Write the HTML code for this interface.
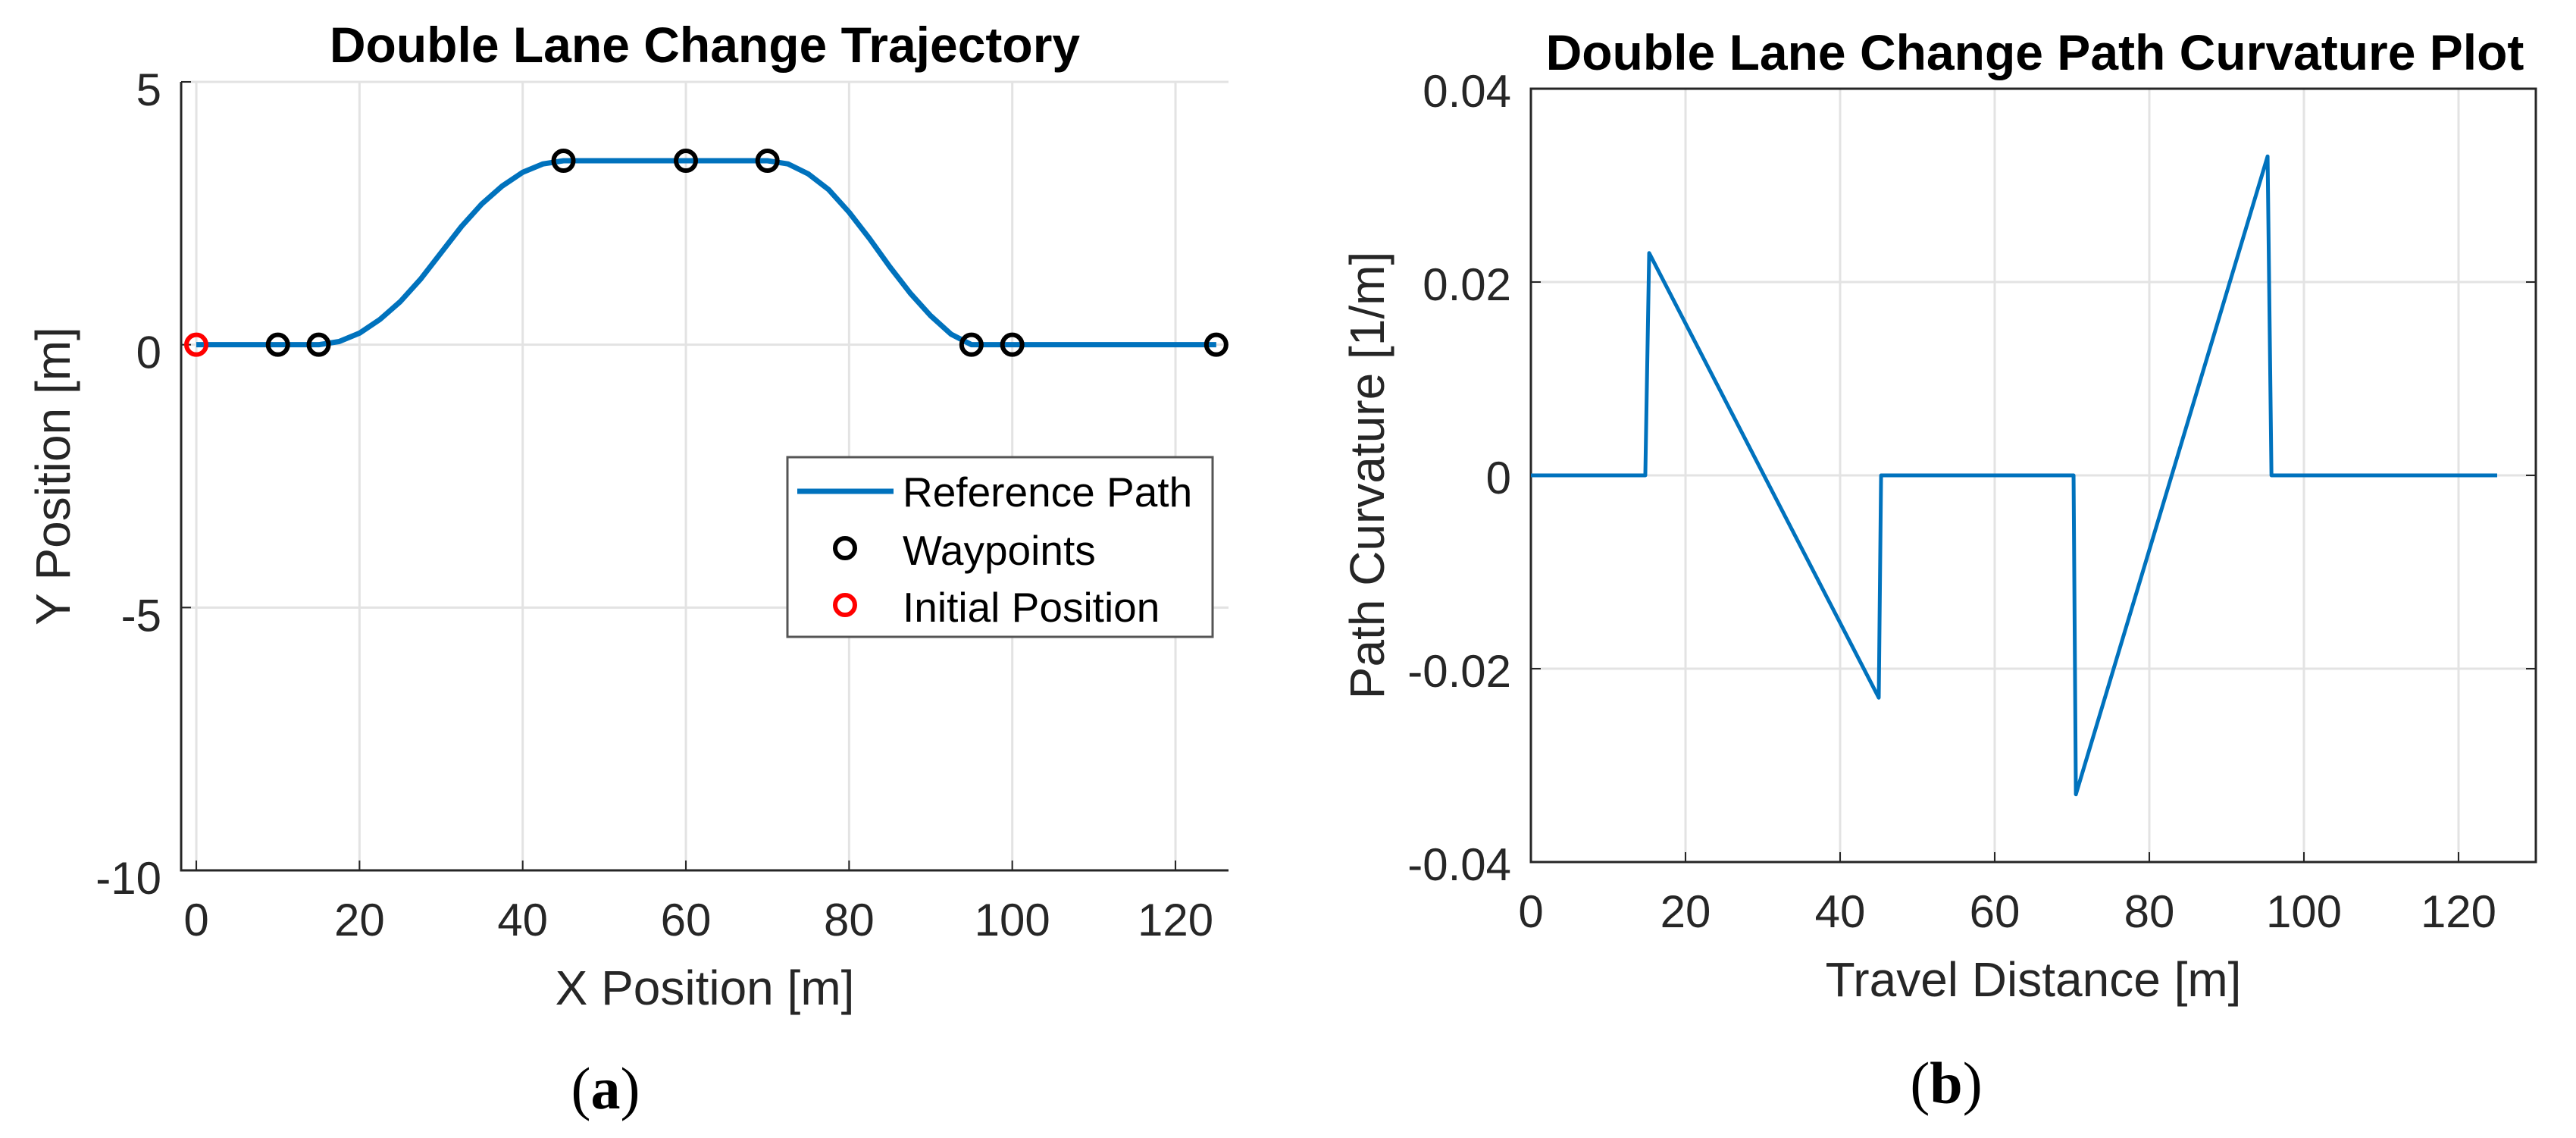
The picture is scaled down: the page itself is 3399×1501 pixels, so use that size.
<!DOCTYPE html>
<html><head><meta charset="utf-8">
<style>
html,body{margin:0;padding:0;background:#fff;}
svg{display:block;}
text{font-family:"Liberation Sans",Arial,sans-serif;}
</style></head>
<body>
<svg id="fig" width="3399" height="1501" viewBox="0 0 3399 1501" xmlns="http://www.w3.org/2000/svg">
<rect width="3399" height="1501" fill="#fff"/>
<g id="left"></g>
<g id="right"></g>
<text x="930" y="82" font-size="66" font-weight="bold" text-anchor="middle" fill="#000">Double Lane Change Trajectory</text>
<text x="2685" y="92" font-size="66" font-weight="bold" text-anchor="middle" fill="#000">Double Lane Change Path Curvature Plot</text>
<text x="930" y="1325" font-size="64" text-anchor="middle" fill="#262626">X Position [m]</text>
<text transform="translate(92,628) rotate(-90)" font-size="64" text-anchor="middle" fill="#262626">Y Position [m]</text>
<text x="2683" y="1314" font-size="64" text-anchor="middle" fill="#262626">Travel Distance [m]</text>
<text transform="translate(1826,627) rotate(-90)" font-size="64" text-anchor="middle" fill="#262626">Path Curvature [1/m]</text>
<text x="799" y="1462" font-size="78" text-anchor="middle" style="font-family:'Liberation Serif',serif" fill="#000">(<tspan font-weight="bold">a</tspan>)</text>
<text x="2568" y="1455" font-size="78" text-anchor="middle" style="font-family:'Liberation Serif',serif" fill="#000">(<tspan font-weight="bold">b</tspan>)</text>
<g>
<rect x="1039" y="603" width="561" height="237" fill="#fff" stroke="#555" stroke-width="3"/>
<line x1="1052" y1="648" x2="1179" y2="648" stroke="#0072BD" stroke-width="7"/>
<text x="1191" y="668" font-size="55" fill="#000">Reference Path</text>
<circle cx="1115" cy="723" r="13" fill="none" stroke="#000" stroke-width="6"/>
<text x="1191" y="745" font-size="55" fill="#000">Waypoints</text>
<circle cx="1115" cy="798" r="13" fill="none" stroke="#f00" stroke-width="6"/>
<text x="1191" y="820" font-size="55" fill="#000">Initial Position</text>
</g>
</svg>
<script>
// ---- Left chart data ----
const pathX = [0,5,10,15,17.5,20,22.5,25,27.5,30,32.5,35,37.5,40,42.5,45,50,55,60,65,70,72.5,75,77.5,80,82.5,85,87.5,90,92.5,95,100,105,110,115,120,125];
const pathY = [0,0,0,0,0.06,0.22,0.48,0.82,1.25,1.75,2.25,2.68,3.02,3.28,3.44,3.5,3.5,3.5,3.5,3.5,3.5,3.44,3.25,2.95,2.52,2.02,1.48,0.98,0.55,0.2,0,0,0,0,0,0,0];
const waypointX = [10,15,45,60,70,95,100,125];
const waypointY = [0,0,3.5,3.5,3.5,0,0,0];
const initialX = [0];
const initialY = [0];
const leftXTicks = [0,20,40,60,80,100,120];
const leftYTicks = [5,0,-5,-10];
// ---- Right chart data ----
const curvS = [0,14.8,15.3,45,45.3,70.2,70.5,95.3,95.8,125];
const curvK = [0,0,0.023,-0.023,0,0,-0.033,0.033,0,0];
const rightXTicks = [0,20,40,60,80,100,120];
const rightYTicks = [0.04,0.02,0,-0.02,-0.04];
const rightYTickLabels = ["0.04","0.02","0","-0.02","-0.04"];

const NS = "http://www.w3.org/2000/svg";
function mk(parent, tag, attrs){const e=document.createElementNS(NS,tag);for(const k in attrs)e.setAttribute(k,attrs[k]);parent.appendChild(e);return e;}

// Left axes
const L = {x0:239,x1:1621,y0:108,y1:1148,xmin:-1.86,xmax:126.5,ymin:-10,ymax:5};
const lx = v => L.x0+(v-L.xmin)/(L.xmax-L.xmin)*(L.x1-L.x0);
const ly = v => L.y1-(v-L.ymin)/(L.ymax-L.ymin)*(L.y1-L.y0);
const gL = document.getElementById('left');
leftXTicks.forEach(t=>{
  const g=mk(gL,'line',{x1:lx(t),x2:lx(t),y1:L.y0,y2:L.y1,stroke:'#e3e3e3','stroke-width':3});
  
  
  const tk=mk(gL,'line',{x1:lx(t),x2:lx(t),y1:L.y1,y2:L.y1-13,stroke:'#262626','stroke-width':2});
  
  
  const tx=mk(gL,'text',{x:lx(t),y:L.y1+86,'font-size':60,'text-anchor':'middle',fill:'#262626'});
  tx.textContent=t;
  
  
});
leftYTicks.forEach(t=>{
  const g=mk(gL,'line',{x1:L.x0,x2:L.x1,y1:ly(t),y2:ly(t),stroke:'#e3e3e3','stroke-width':3});
  
  
  const tk=mk(gL,'line',{x1:L.x0,x2:L.x0+13,y1:ly(t),y2:ly(t),stroke:'#262626','stroke-width':2});
  
  
  const tx=mk(gL,'text',{x:L.x0-26,y:ly(t)+31,'font-size':60,'text-anchor':'end',fill:'#262626'});
  tx.textContent=t;
  
  
});
const la=mk(gL,'path',{d:`M${L.x0},${L.y0}V${L.y1}H${L.x1}`,fill:'none',stroke:'#262626','stroke-width':3});


const lp=mk(gL,'polyline',{points:pathX.map((x,i)=>lx(x)+','+ly(pathY[i])).join(' '),fill:'none',stroke:'#0072BD','stroke-width':7,'stroke-linejoin':'round'});


waypointX.forEach((x,i)=>{
  const c=mk(gL,'circle',{cx:lx(x),cy:ly(waypointY[i]),r:13,fill:'none',stroke:'#000','stroke-width':6});
  
  
});
initialX.forEach((x,i)=>{
  const c=mk(gL,'circle',{cx:lx(x),cy:ly(initialY[i]),r:13,fill:'none',stroke:'#f00','stroke-width':6});
  
  
});

// Right axes
const R = {x0:2020,x1:3346,y0:117,y1:1137,xmin:0,xmax:130,ymin:-0.04,ymax:0.04};
const rx = v => R.x0+(v-R.xmin)/(R.xmax-R.xmin)*(R.x1-R.x0);
const ry = v => R.y1-(v-R.ymin)/(R.ymax-R.ymin)*(R.y1-R.y0);
const gR = document.getElementById('right');
rightXTicks.forEach(t=>{
  const g=mk(gR,'line',{x1:rx(t),x2:rx(t),y1:R.y0,y2:R.y1,stroke:'#e3e3e3','stroke-width':3});
  
  
  const tk=mk(gR,'line',{x1:rx(t),x2:rx(t),y1:R.y1,y2:R.y1-13,stroke:'#262626','stroke-width':2});
  
  
  const tx=mk(gR,'text',{x:rx(t),y:R.y1+86,'font-size':60,'text-anchor':'middle',fill:'#262626'});
  tx.textContent=t;
  
  
});
rightYTicks.forEach((t,i)=>{
  const g=mk(gR,'line',{x1:R.x0,x2:R.x1,y1:ry(t),y2:ry(t),stroke:'#e3e3e3','stroke-width':3});
  
  
  const tk=mk(gR,'line',{x1:R.x0,x2:R.x0+13,y1:ry(t),y2:ry(t),stroke:'#262626','stroke-width':2});
  
  
  const tk2=mk(gR,'line',{x1:R.x1,x2:R.x1-13,y1:ry(t),y2:ry(t),stroke:'#262626','stroke-width':2});
  
  
  const tx=mk(gR,'text',{x:R.x0-26,y:ry(t)+24,'font-size':60,'text-anchor':'end',fill:'#262626'});
  tx.textContent=rightYTickLabels[i];
  
  
});
const rb=mk(gR,'rect',{x:R.x0,y:R.y0,width:R.x1-R.x0,height:R.y1-R.y0,fill:'none',stroke:'#262626','stroke-width':3});


const rp=mk(gR,'polyline',{points:curvS.map((s,i)=>rx(s)+','+ry(curvK[i])).join(' '),fill:'none',stroke:'#0072BD','stroke-width':5,'stroke-linejoin':'round'});


</script>
</body></html>
